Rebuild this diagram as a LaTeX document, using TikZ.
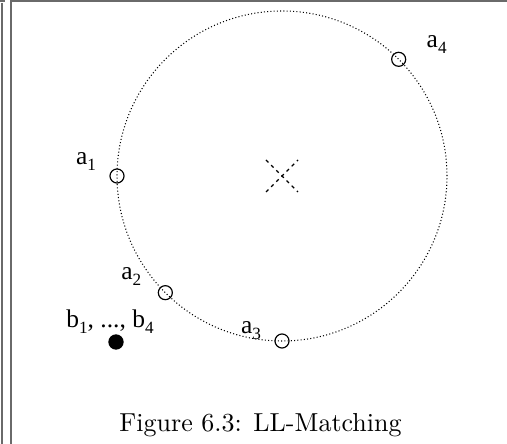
\documentclass[tikz,border=0pt]{standalone}
\usepackage{fontspec}
\usepackage{tikz}
\usetikzlibrary{calc,positioning}
\newfontfamily\labfont{Liberation Serif}
\newcommand{\lsub}[1]{\raisebox{-2.3pt}{\fontsize{6.6}{6.6}\selectfont #1}}
\definecolor{fgray}{HTML}{6A6A6A}
\tikzset{
  pframe/.style={fgray, line width=0.8pt},
  ring/.style={black, line width=0.4pt, dash pattern=on 0.4pt off 0.85pt},
  cross/.style={black, line width=0.45pt, dash pattern=on 1.3pt off 1.5pt},
  apt/.style={circle, draw=black, line width=0.45pt, minimum size=5.4pt, inner sep=0pt},
  bpt/.style={circle, fill=black, minimum size=5.9pt, inner sep=0pt},
  plbl/.style={font=\fontsize{9.8}{11}\labfont, inner sep=0pt},
}

\begin{document}
\begin{tikzpicture}[x=0.3846pt,y=0.3846pt]
  \useasboundingbox (0,0) rectangle (507,444);

  % page frame
  \draw[pframe] (0,443) -- (5,443);
  \draw[pframe] (2,441) -- (2,0);
  \draw[pframe] (11,0) -- (11,443) -- (507,443);

  % circle and centre
  \coordinate (ctr) at (282,268);
  \draw[ring] (ctr) circle (63.46pt);
  \draw[cross] ($(ctr)+(-16,16)$) -- ($(ctr)+(16,-16)$);
  \draw[cross] ($(ctr)+(-16,-16)$) -- ($(ctr)+(16,16)$);

  % points on the circle
  \node[apt] (a1) at ($(ctr)+(180:165)$) {};
  \node[apt] (a2) at ($(ctr)+(225:165)$) {};
  \node[apt] (a3) at ($(ctr)+(270:165)$) {};
  \node[apt] (a4) at ($(ctr)+(45:165)$) {};
  \node[bpt] (b) at (116,102) {};

  % labels
  \node[plbl] (la1) at ($(a1)+(-31,14)$) {a\lsub{1}};
  \node[plbl] (la2) at ($(a2)+(-34,16)$) {a\lsub{2}};
  \node[plbl] (la3) at ($(a3)+(-31,10)$) {a\lsub{3}};
  \node[plbl] (la4) at ($(a4)+(38,15)$) {a\lsub{4}};
  \node[plbl] (lb) at ($(b)+(-6,20)$) {b\lsub{1}, ..., b\lsub{4}};

  \node[anchor=base, inner sep=0pt] (cap) at (260.5,12) {Figure 6.3: LL-Matching};

\end{tikzpicture}
\end{document}
